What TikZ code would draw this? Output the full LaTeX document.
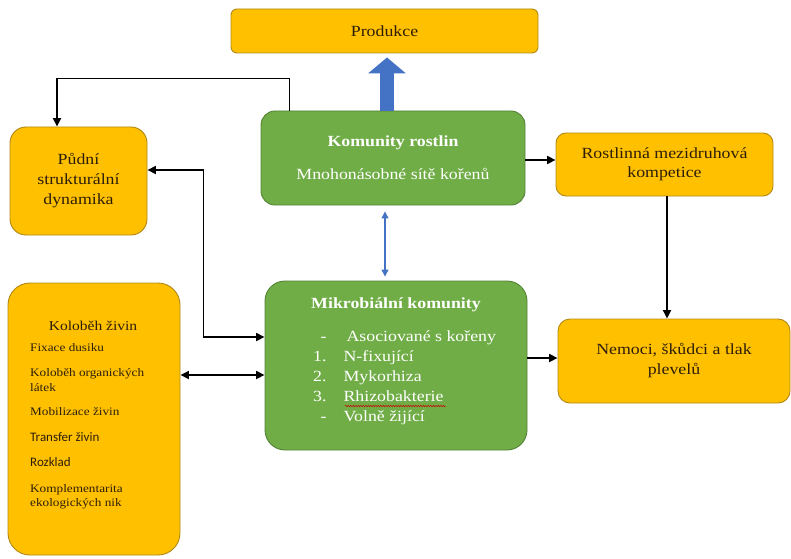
\documentclass[tikz,border=0pt]{standalone}
\usepackage{fontspec}
\setmainfont[FakeStretch=1.15]{Liberation Serif}
\newfontfamily\calibrifont{Carlito}
\usetikzlibrary{arrows.meta,positioning,decorations.pathmorphing}
\definecolor{BoxYellow}{RGB}{255,192,0}
\definecolor{BoxYellowEdge}{RGB}{176,136,20}
\definecolor{BoxGreen}{RGB}{112,173,71}
\definecolor{BoxGreenEdge}{RGB}{84,130,53}
\definecolor{ArrowBlue}{RGB}{68,114,196}
\definecolor{TextBrown}{RGB}{45,30,10}

\begin{document}
\begin{tikzpicture}[
    x=1pt, y=1pt,
    ybox/.style={rectangle, rounded corners=#1, draw=BoxYellowEdge, fill=BoxYellow, line width=0.9pt, text=TextBrown, align=center, inner sep=0pt},
    gbox/.style={rectangle, rounded corners=#1, draw=BoxGreenEdge, fill=BoxGreen, line width=0.9pt, text=white, align=center, inner sep=0pt},
    arr/.style={-{Triangle[length=8.5pt,width=8pt]}, line width=1.7pt},
    biarr/.style={{Triangle[length=8.5pt,width=8pt]}-{Triangle[length=8.5pt,width=8pt]}, line width=1.7pt},
    bluearr/.style={{Triangle[length=7pt,width=7pt]}-{Triangle[length=7pt,width=7pt]}, line width=1.2pt, ArrowBlue},
    bigarr/.style={-{Triangle[length=16pt,width=37pt]}, line width=14pt, ArrowBlue},
    txt/.style={font=\fontsize{15.5}{20}\selectfont}
]
    \useasboundingbox (0,0) rectangle (791,558);

    % boxes
    \node[ybox=6pt, minimum width=307pt, minimum height=44pt, txt] (prod) at (384.5,527) {Produkce};
    \node[gbox=14pt, minimum width=264pt, minimum height=94pt, font=\fontsize{15.5}{33}\selectfont] (kom) at (393,400)
        {\textbf{Komunity rostlin}\\Mnohonásobné sítě kořenů};
    \node[ybox=16pt, minimum width=137pt, minimum height=108pt, txt] (pudni) at (78.5,377)
        {Půdní\\strukturální\\dynamika};
    \node[ybox=10pt, minimum width=217pt, minimum height=63pt, font=\fontsize{15.5}{19}\selectfont] (rost) at (664.5,393.5)
        {Rostlinná mezidruhová\\kompetice};
    \node[ybox=12pt, minimum width=232pt, minimum height=84pt, txt] (nem) at (674,197)
        {Nemoci, škůdci a tlak\\plevelů};
    \node[gbox=20pt, minimum width=262pt, minimum height=169pt] (mikro) at (396,192.5) {};
    \node[ybox=22pt, minimum width=172pt, minimum height=272pt] (kol) at (94,139) {};

    % text inside Mikrobialni komunity
    \node[text=white, font=\fontsize{15.5}{19}\selectfont\bfseries] (mikrotitle) at (396,253) {Mikrobiální komunity};
    \node[text=white, anchor=west, inner sep=0pt, txt] (mikrolist) at (313,181)
        {\begin{tabular}{@{}r@{\hspace{17pt}}l@{}}
            - & \hspace{3pt}Asociované s kořeny\\
            1. & N-fixující\\
            2. & Mykorhiza\\
            3. & Rhizobakterie\\
            - & Volně žijící
        \end{tabular}};
    \draw[red!80!black, line width=0.5pt, decorate, decoration={snake, amplitude=0.7pt, segment length=2.5pt}]
        (345,152) -- (446,152);

    % text inside Kolobeh zivin
    \node[text=TextBrown, font=\fontsize{13.5}{16}\selectfont] (koltitle) at (93,232) {Koloběh živin};
    \node[text=TextBrown, anchor=north west, inner sep=0pt, align=left, font=\fontsize{11.5}{14.5}\selectfont] (kollist) at (30,215)
        {Fixace dusiku\\[11pt]
         Koloběh organických\\látek\\[10pt]
         Mobilizace živin\\[11pt]
         {\calibrifont\fontsize{13}{14.5}\selectfont Transfer živin}\\[11pt]
         {\calibrifont\fontsize{13}{14.5}\selectfont Rozklad}\\[11pt]
         Komplementarita\\ekologických nik};

    % connectors
    \draw[bigarr, shorten >=4pt] ([xshift=-6pt]kom.north) -- ([xshift=-6pt]kom.north |- prod.south);
    \draw[bluearr, shorten <=6pt, shorten >=4pt] ([xshift=-8pt]kom.south) -- ([xshift=-8pt]kom.south |- mikro.north);
    \draw[arr] ([xshift=29pt]kom.north west) -- ++(0,32) -| ([xshift=-21.5pt]pudni.north);
    \draw[biarr] ([yshift=11pt]pudni.east) -- ++(56,0) |- ([yshift=28.5pt]mikro.west);
    \draw[biarr] ([yshift=-9.5pt]mikro.west) -- ([yshift=-9.5pt]mikro.west -| kol.east);
    \draw[arr] ([yshift=-2pt]kom.east) -- ([yshift=-2pt]kom.east -| rost.west);
    \draw[arr] ([xshift=2.5pt]rost.south) -- ([xshift=2.5pt]rost.south |- nem.north);
    \draw[arr] ([yshift=7.5pt]mikro.east) -- ([yshift=7.5pt]mikro.east -| nem.west);
\end{tikzpicture}
\end{document}
